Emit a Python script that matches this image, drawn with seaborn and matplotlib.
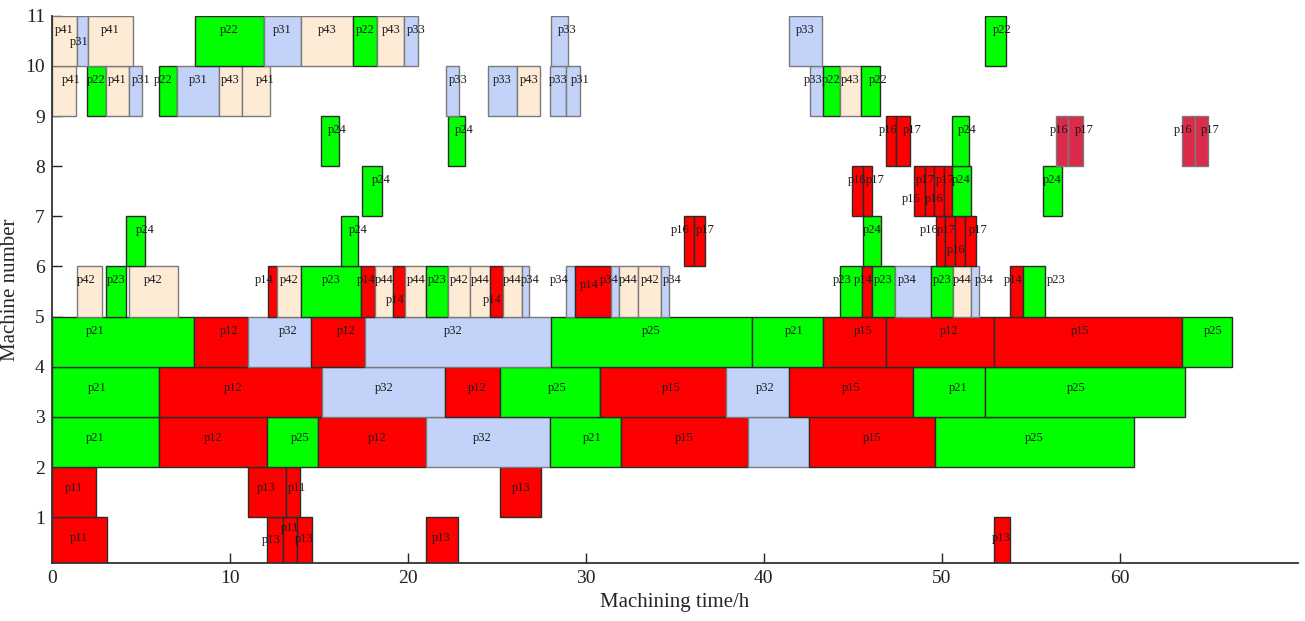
import matplotlib
matplotlib.use('Agg')
import matplotlib.pyplot as plt
import seaborn as sns
import pandas as pd

# Gantt schedule: jobs and (start, finish) in hours for each machine
jobs_m1 = ['p11', 'p13', 'p11', 'p13', 'p13', 'p13']
spans_m1 = [(0, 3.1), (12.1, 13.0), (13.0, 13.8), (13.8, 14.6), (21.0, 22.8), (52.9, 53.8)]

jobs_m2 = ['p11', 'p13', 'p11', 'p13']
spans_m2 = [(0, 2.5), (11.0, 13.15), (13.15, 13.95), (25.2, 27.5)]

jobs_m3 = ['p21', 'p12', 'p25', 'p12', 'p32', 'p21', 'p15', 'p32', 'p15', 'p25']
spans_m3 = [(0, 6.0), (6.0, 12.1), (12.1, 14.95), (14.95, 21.0), (21.0, 28.0), (28.0, 32.0),
            (32.0, 39.1), (39.1, 42.55), (42.55, 49.6), (49.6, 60.8)]

jobs_m4 = ['p21', 'p12', 'p32', 'p12', 'p25', 'p15', 'p32', 'p15', 'p21', 'p25']
spans_m4 = [(0, 6.0), (6.0, 15.2), (15.2, 22.1), (22.1, 25.2), (25.2, 30.8), (30.8, 37.85),
            (37.85, 41.4), (41.4, 48.4), (48.4, 52.4), (52.4, 63.65)]

jobs_m5 = ['p21', 'p12', 'p32', 'p12', 'p32', 'p25', 'p21', 'p15', 'p12', 'p15', 'p25']
spans_m5 = [(0, 8.0), (8.0, 11.05), (11.05, 14.55), (14.55, 17.6), (17.6, 28.05), (28.05, 39.35),
            (39.35, 43.3), (43.3, 46.85), (46.85, 52.95), (52.95, 63.5), (63.5, 66.3)]

jobs_m6 = ['p42', 'p23', 'p42', 'p14', 'p42', 'p23', 'p14', 'p44', 'p14', 'p44', 'p23',
           'p42', 'p44', 'p14', 'p44', 'p34', 'p34', 'p14', 'p34', 'p44', 'p42', 'p34',
           'p23', 'p14', 'p23', 'p34', 'p23', 'p44', 'p34', 'p14', 'p23']
spans_m6 = [(1.4, 2.85), (3.05, 4.2), (4.35, 7.1), (12.15, 12.65), (12.65, 14.0), (14.0, 17.4),
            (17.4, 18.15), (18.15, 19.15), (19.15, 19.85), (19.85, 21.05), (21.05, 22.25),
            (22.25, 23.5), (23.5, 24.6), (24.6, 25.35), (25.35, 26.4), (26.4, 26.8),
            (28.9, 29.4), (29.4, 31.4), (31.4, 31.85), (31.85, 32.95), (32.95, 34.25),
            (34.25, 34.7), (44.3, 45.5), (45.5, 46.1), (46.1, 47.35), (47.35, 49.4),
            (49.4, 50.6), (50.6, 51.65), (51.65, 52.1), (53.85, 54.55), (54.55, 55.8)]

jobs_m7 = ['p24', 'p24', 'p16', 'p17', 'p24', 'p16', 'p17', 'p16', 'p17']
spans_m7 = [(4.2, 5.25), (16.25, 17.2), (35.5, 36.1), (36.1, 36.7), (45.55, 46.6),
            (49.65, 50.2), (50.2, 50.75), (50.75, 51.3), (51.3, 51.9)]

jobs_m8 = ['p24', 'p16', 'p17', 'p16', 'p17', 'p16', 'p17', 'p24', 'p24']
spans_m8 = [(17.45, 18.55), (44.95, 45.55), (45.55, 46.05), (48.45, 49.05), (49.05, 49.55),
            (49.55, 50.1), (50.1, 50.55), (50.55, 51.65), (55.7, 56.75)]

jobs_m9 = ['p24', 'p24', 'p16', 'p17', 'p24', 'p16', 'p17', 'p16', 'p17']
spans_m9 = [(15.15, 16.15), (22.25, 23.2), (46.85, 47.45), (47.45, 48.2), (50.55, 51.5),
            (56.4, 57.1), (57.1, 57.95), (63.5, 64.2), (64.2, 64.95)]

jobs_m10 = ['p41', 'p22', 'p41', 'p31', 'p22', 'p31', 'p43', 'p41', 'p33', 'p33', 'p43',
            'p33', 'p31', 'p33', 'p22', 'p43', 'p22']
spans_m10 = [(0, 1.35), (2.0, 3.05), (3.05, 4.35), (4.35, 5.1), (6.0, 7.05), (7.05, 9.4),
             (9.4, 10.7), (10.7, 12.25), (22.15, 22.9), (24.5, 26.15), (26.15, 27.45),
             (28.0, 28.9), (28.9, 29.65), (42.6, 43.3), (43.3, 44.3), (44.3, 45.45), (45.45, 46.55)]

jobs_m11 = ['p41', 'p31', 'p41', 'p22', 'p31', 'p43', 'p22', 'p43', 'p33', 'p33', 'p33', 'p22']
spans_m11 = [(0, 1.4), (1.4, 2.05), (2.05, 4.55), (8.05, 11.9), (11.9, 14.0), (14.0, 16.95),
             (16.95, 18.3), (18.3, 19.8), (19.8, 20.55), (28.05, 29.0), (41.4, 43.25), (52.4, 53.6)]

all_jobs = [jobs_m1, jobs_m2, jobs_m3, jobs_m4, jobs_m5, jobs_m6, jobs_m7, jobs_m8, jobs_m9, jobs_m10, jobs_m11]
all_spans = [spans_m1, spans_m2, spans_m3, spans_m4, spans_m5, spans_m6, spans_m7, spans_m8, spans_m9, spans_m10, spans_m11]

rows = []
for m, (js, sp) in enumerate(zip(all_jobs, all_spans), start=1):
    for j, (s, f) in zip(js, sp):
        rows.append({'machine': m, 'job': j, 'start': s, 'finish': f})
df = pd.DataFrame(rows)
df['dur'] = df['finish'] - df['start']

# colours per job family
fill = {'1': '#ff0000', '2': '#00ff00', '3': '#c2d2f8', '4': '#fdebd5'}
edge = {'1': '#2b2b2b', '2': '#2b2b2b', '3': '#7a7a7a', '4': '#7a7a7a'}
crimson_bars = {(9, 56.4), (9, 57.1), (9, 63.5), (9, 64.2)}
no_label = {(3, 39.1)}

# label tweaks (horizontal shift, distance below bar top)
label_dx = {
    (2, 13.15): 0.2, (1, 12.1): -0.2,
    (3, 0): -0.55, (3, 12.1): 0.45, (3, 14.95): 0.3, (3, 21.0): -0.33, (3, 28.0): 0.38,
    (4, 0): -0.45, (4, 6.0): -0.4, (4, 22.1): 0.23, (4, 25.2): 0.38, (4, 30.8): 0.45,
    (4, 37.85): 0.46, (4, 48.4): 0.5, (4, 52.4): -0.5,
    (5, 0): -1.57, (5, 8.0): 0.46, (5, 11.05): 0.5, (5, 14.55): 0.46, (5, 17.6): -0.27,
    (5, 39.35): 0.4, (5, 43.3): 0.48, (5, 46.85): 0.5, (5, 52.95): -0.45, (5, 63.5): 0.34,
    (6, 1.4): -0.16, (6, 12.15): -0.44, (6, 17.4): -0.12, (6, 19.15): -0.2, (6, 24.6): -0.25,
    (6, 26.4): 0.28, (6, 28.9): -0.64, (6, 29.4): -0.2, (6, 31.4): -0.3, (6, 34.25): 0.37,
    (6, 44.3): -0.47, (6, 45.5): -0.2, (6, 47.35): -0.3, (6, 51.65): 0.5, (6, 53.85): -0.2,
    (6, 54.55): 1.24,
    (7, 4.2): 0.55, (7, 16.25): 0.48, (7, 35.5): -0.47, (7, 36.1): 0.32, (7, 49.65): -0.66,
    (7, 50.2): -0.2, (7, 50.75): -0.2, (7, 51.3): 0.46,
    (8, 17.45): 0.5, (8, 45.55): 0.45, (8, 48.45): -0.45, (8, 49.05): -0.26, (8, 49.55): -0.23,
    (8, 50.1): -0.16,
    (9, 15.15): 0.4, (9, 22.25): 0.45, (9, 46.85): -0.17, (9, 47.45): 0.5, (9, 50.55): 0.4,
    (9, 56.4): -0.18, (9, 57.1): 0.5, (9, 63.5): -0.3, (9, 64.2): 0.5,
    (10, 0): 0.44, (10, 4.35): 0.33, (10, 6.0): -0.25, (10, 10.7): 0.5, (10, 22.15): 0.3,
    (10, 28.9): 0.42, (10, 42.6): -0.2, (10, 45.45): 0.45,
    (11, 1.4): -0.2, (11, 19.8): 0.28, (11, 28.05): 0.45, (11, 52.4): 0.4,
}
label_dy = {(6, 19.15): 0.67, (6, 24.6): 0.67, (7, 50.75): 0.68, (8, 48.45): 0.65,
            (8, 49.55): 0.65, (11, 1.4): 0.53, (1, 12.1): 0.46, (1, 13.0): 0.22,
            (1, 13.8): 0.43, (6, 29.4): 0.37}

sns.set_style('ticks')
plt.rcParams['font.family'] = ['Liberation Serif', 'DejaVu Serif']

fig = plt.figure(figsize=(13.05, 6.21), dpi=100)
ax = fig.add_axes([0.0396, 0.0929, 0.955, 0.8818])

for _, r in df.iterrows():
    key = (r['machine'], r['start'])
    fam = r['job'][1]
    color = '#dc2a4a' if key in crimson_bars else fill[fam]
    ec = '#7a7a7a' if key in crimson_bars else edge[fam]
    ax.barh(r['machine'] - 0.5, r['dur'], left=r['start'], height=1.0,
            color=color, edgecolor=ec, linewidth=1.0, zorder=2)
    if key in no_label:
        continue
    dy = label_dy.get(key, 0.42 if r['machine'] <= 4 else 0.28)
    ax.text(r['start'] + r['dur'] / 2 + label_dx.get(key, 0), r['machine'] - dy, r['job'],
            ha='center', va='center', fontsize=9, color='#1a1a1a', zorder=3)

ax.set_xlim(0, 70)
ax.set_ylim(0.08, 11)
ax.set_xticks(range(0, 61, 10))
ax.set_yticks(range(1, 12))
ax.tick_params(direction='in', length=7, width=1.0, labelsize=14, colors='#222222', pad=5)
ax.set_xlabel('Machining time/h', fontsize=15, labelpad=4)
ax.set_ylabel('Machine number', fontsize=15, labelpad=4)
sns.despine(ax=ax)
for side in ['left', 'bottom']:
    ax.spines[side].set_linewidth(1.3)
    ax.spines[side].set_color('#333333')

fig.savefig('out.png', dpi=100)
